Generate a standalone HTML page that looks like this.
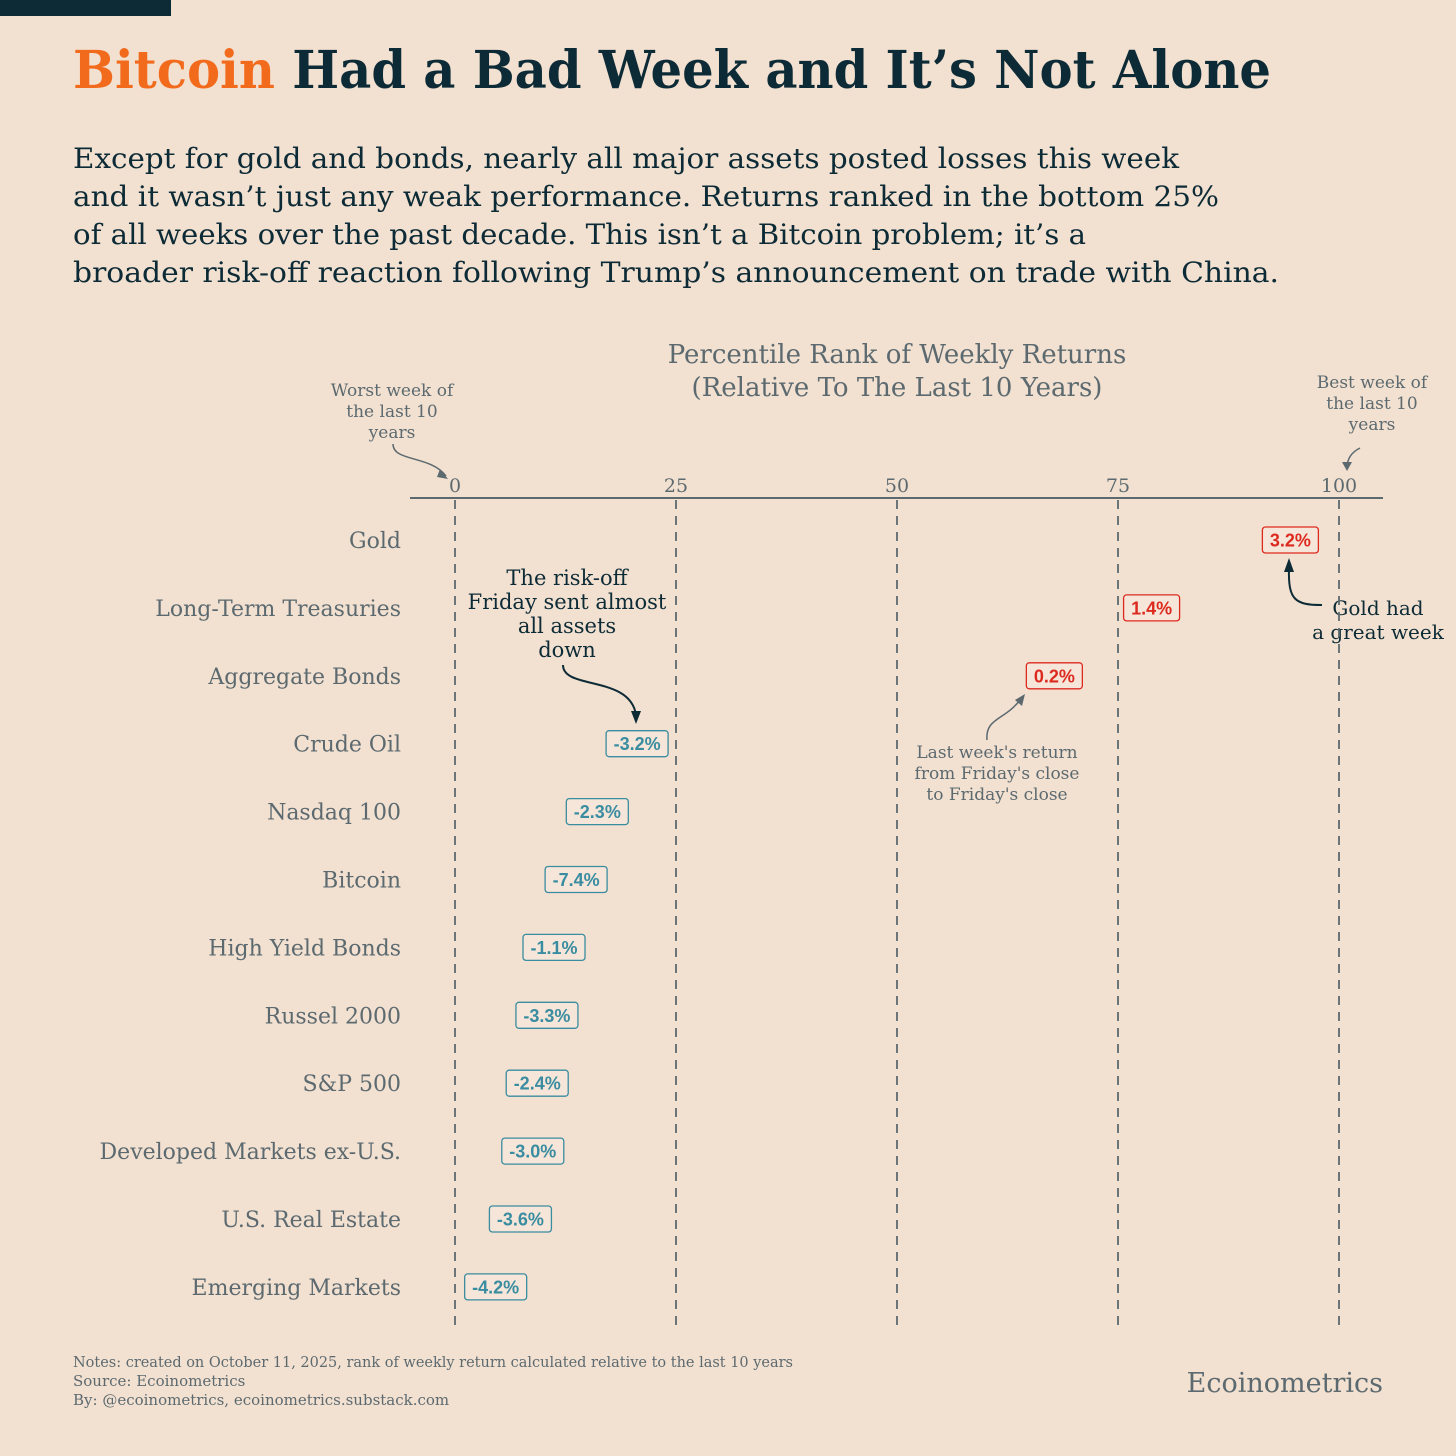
<!DOCTYPE html>
<html><head><meta charset="utf-8"><style>
html,body{margin:0;padding:0;background:#f2e0d0;}
svg{display:block;}
</style></head><body>
<svg id="chart" width="1456" height="1456" viewBox="0 0 1456 1456" xmlns="http://www.w3.org/2000/svg">
<rect x="0" y="0" width="1456" height="1456" fill="#f2e0d0"/>
<rect x="0" y="0" width="171" height="16" fill="#0d2b36"/>
<text x="73" y="88" font-family="DejaVu Serif, Liberation Serif, serif" font-weight="bold" font-size="52" fill="#0d2b36" textLength="1198" lengthAdjust="spacingAndGlyphs"><tspan fill="#f26b1d">Bitcoin</tspan> Had a Bad Week and It’s Not Alone</text>
<g font-family="DejaVu Serif, Liberation Serif, serif" font-size="28" fill="#0d2b36">
<text x="73" y="168" textLength="1106" lengthAdjust="spacingAndGlyphs">Except for gold and bonds, nearly all major assets posted losses this week</text>
<text x="73" y="206" textLength="1146" lengthAdjust="spacingAndGlyphs">and it wasn’t just any weak performance. Returns ranked in the bottom 25%</text>
<text x="73" y="244" textLength="1013" lengthAdjust="spacingAndGlyphs">of all weeks over the past decade. This isn’t a Bitcoin problem; it’s a</text>
<text x="73" y="282" textLength="1206" lengthAdjust="spacingAndGlyphs">broader risk-off reaction following Trump’s announcement on trade with China.</text>
</g>
<g font-family="DejaVu Serif, Liberation Serif, serif" fill="#5c6a70" text-anchor="middle" font-size="26">
<text x="897" y="363">Percentile Rank of Weekly Returns</text>
<text x="897" y="396">(Relative To The Last 10 Years)</text>
</g>
<g font-family="DejaVu Serif, Liberation Serif, serif" fill="#5c6a70" text-anchor="middle" font-size="17">
<g>
<text x="392" y="396">Worst week of</text><text x="392" y="417">the last 10</text><text x="392" y="438">years</text></g>
<g>
<text x="1372" y="388">Best week of</text><text x="1372" y="409">the last 10</text><text x="1372" y="430">years</text></g>
<g>
<text x="997" y="758">Last week's return</text><text x="997" y="779">from Friday's close</text><text x="997" y="800">to Friday's close</text></g>
</g>
<path d="M393,444 C393,462 430,455 446,476" fill="none" stroke="#5c6a70" stroke-width="1.5"/>
<path d="M440,469 L448,479 L437,477" fill="#5c6a70"/>
<path d="M1347,468 C1347,458 1352,452 1360,448" fill="none" stroke="#5c6a70" stroke-width="1.5"/>
<path d="M1342,462 L1347,471 L1352,462Z" fill="#5c6a70"/>
<path d="M987,740 C985,718 1005,720 1020,700" fill="none" stroke="#5c6a70" stroke-width="1.5"/>
<path d="M1015,700 L1025,694 L1022,706Z" fill="#5c6a70"/>
<g font-family="DejaVu Serif, Liberation Serif, serif" fill="#0d2b36" text-anchor="middle" font-size="21">
<g>
<text x="567" y="585">The risk-off</text><text x="567" y="609">Friday sent almost</text><text x="567" y="633">all assets</text><text x="567" y="657">down</text></g>
<g font-size="20">
<text x="1378" y="615">Gold had</text><text x="1378" y="639">a great week</text></g>
</g>
<path d="M563,665 C563,690 630,675 636,715" fill="none" stroke="#0d2b36" stroke-width="2"/>
<path d="M631,711 L636,724 L641,711Z" fill="#0d2b36"/>
<path d="M1322,605 C1295,605 1288,600 1289,568" fill="none" stroke="#0d2b36" stroke-width="2"/>
<path d="M1284,572 L1289,558 L1294,572Z" fill="#0d2b36"/>
<g id="plot"></g>
<g font-family="DejaVu Serif, Liberation Serif, serif" fill="#5c6a70" font-size="15">
<text x="73" y="1367" textLength="720" lengthAdjust="spacingAndGlyphs">Notes: created on October 11, 2025, rank of weekly return calculated relative to the last 10 years</text>
<text x="73" y="1386">Source: Ecoinometrics</text>
<text x="73" y="1405">By: @ecoinometrics, ecoinometrics.substack.com</text>
</g>
<text x="1383" y="1392" text-anchor="end" font-family="DejaVu Serif, Liberation Serif, serif" font-size="27" fill="#5c6a70">Ecoinometrics</text>
</svg>
<script>
const categories = ["Gold","Long-Term Treasuries","Aggregate Bonds","Crude Oil","Nasdaq 100","Bitcoin","High Yield Bonds","Russel 2000","S&P 500","Developed Markets ex-U.S.","U.S. Real Estate","Emerging Markets"];
const percentiles = [94.5,78.8,67.8,20.6,16.1,13.7,11.2,10.4,9.3,8.8,7.4,4.6];
const returns = [3.2,1.4,0.2,-3.2,-2.3,-7.4,-1.1,-3.3,-2.4,-3.0,-3.6,-4.2];
const ticks = [0,25,50,75,100];
const NS = "http://www.w3.org/2000/svg";
const xScale = v => 455 + v * 8.84;
const yScale = i => 540 + i * 67.9;
const g = document.getElementById('plot');
function mk(tag, attrs, parent){const e=document.createElementNS(NS,tag);for(const k in attrs)e.setAttribute(k,attrs[k]);parent.appendChild(e);return e;}
const axis = mk('line',{x1:410,x2:1383,y1:498,y2:498,stroke:'#5c6a70','stroke-width':2},g);


ticks.forEach(t=>{
  const l = mk('line',{x1:xScale(t),x2:xScale(t),y1:500,y2:1328,stroke:'#5c6a70','stroke-width':1.8,'stroke-dasharray':'9,7'},g);
  
  
  const tx = mk('text',{x:xScale(t),y:492,'text-anchor':'middle','font-family':'DejaVu Serif, Liberation Serif, serif','font-size':19,fill:'#5c6a70'},g);
  tx.textContent = t;
  
  
});
categories.forEach((c,i)=>{
  const y = yScale(i);
  const lab = mk('text',{x:401,y:y+8,'text-anchor':'end','font-family':'DejaVu Serif, Liberation Serif, serif','font-size':22,fill:'#5c6a70'},g);
  lab.textContent = c;
  
  
  const pos = returns[i] >= 0;
  const col = pos ? '#dd2a1f' : '#3a8ca0';
  const txt = returns[i].toFixed(1) + '%';
  const w = txt.length > 4 ? 62 : 56;
  const cx = xScale(percentiles[i]);
  const r = mk('rect',{x:cx-w/2,y:y-13,width:w,height:26,rx:3,fill:'#f5e6d9',stroke:col,'stroke-width':1.3},g);
  
  
  const vt = mk('text',{x:cx,y:y+6.5,'text-anchor':'middle','font-family':'Liberation Sans, sans-serif','font-weight':'bold','font-size':18,fill:col},g);
  vt.textContent = txt;
  
  
});
</script>
</body></html>
